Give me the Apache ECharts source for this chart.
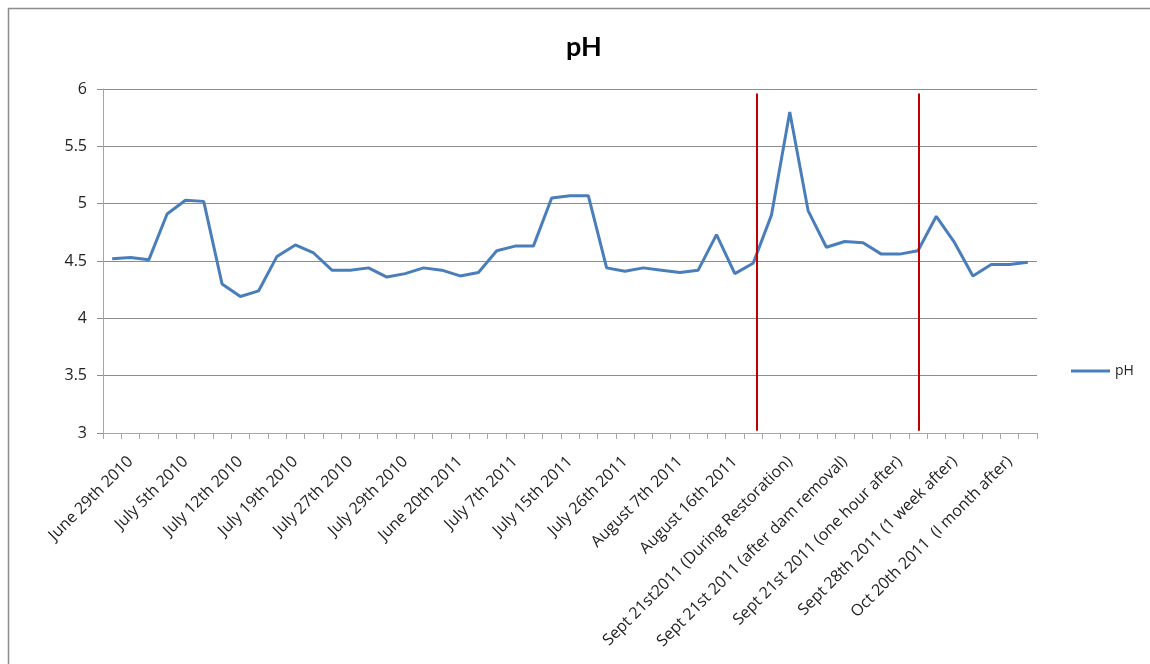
<!DOCTYPE html>
<html>
<head>
<meta charset="utf-8">
<script src="https://cdn.jsdelivr.net/npm/echarts@6/dist/echarts.min.js"></script>
<style>
  html, body { margin: 0; padding: 0; background: #fff; }
  #chart { width: 1150px; height: 664px; }
</style>
</head>
<body>
<div id="chart"></div>
<script>
  // sampling dates; only every third one carries a label in the original
  const labelNames = [
    'June 29th 2010', 'July 5th 2010', 'July 12th 2010', 'July 19th 2010',
    'July 27th 2010', 'July 29th 2010', 'June 20th 2011', 'July 7th 2011',
    'July 15th 2011', 'July 26th 2011', 'August 7th 2011', 'August 16th 2011',
    'Sept 21st2011 (During Restoration)', 'Sept 21st 2011 (after dam removal)',
    'Sept 21st 2011 (one hour after)', 'Sept 28th 2011 (1 week after)',
    'Oct 20th 2011  (I month after)'
  ];

  const phValues = [
    4.52, 4.53, 4.51, 4.91, 5.03, 5.02, 4.30, 4.19, 4.24, 4.54,
    4.64, 4.57, 4.42, 4.42, 4.44, 4.36, 4.39, 4.44, 4.42, 4.37,
    4.40, 4.59, 4.63, 4.63, 5.05, 5.07, 5.07, 4.44, 4.41, 4.44,
    4.42, 4.40, 4.42, 4.73, 4.39, 4.48, 4.90, 5.80, 4.94, 4.62,
    4.67, 4.66, 4.56, 4.56, 4.59, 4.89, 4.66, 4.37, 4.47, 4.47,
    4.49
  ];

  // categories: labelled sample sits at index 1, 4, 7, ...
  const categories = phValues.map((v, i) => (i % 3 === 1 ? labelNames[(i - 1) / 3] : ''));

  // restoration markers (in category-width units along the axis)
  const markerAt = [35.68, 44.56];
  const markerRange = [3.02, 5.96];

  const chart = echarts.init(document.getElementById('chart'));

  chart.setOption({
    animation: false,
    textStyle: { fontFamily: 'Open Sans' },
    graphic: [{
      type: 'rect',
      shape: { x: 8.5, y: 8.5, width: 1200, height: 700 },
      style: { fill: 'none', stroke: '#8c8c8c', lineWidth: 1.5 },
      silent: true
    }],
    title: {
      text: 'pH',
      left: 561,
      top: 29,
      textStyle: { fontSize: 27, fontWeight: 'bold', color: '#000', fontFamily: 'Lato' }
    },
    legend: {
      data: ['pH'],
      left: 1066,
      top: 359,
      icon: 'rect',
      itemWidth: 39,
      itemHeight: 3,
      itemGap: 4,
      textStyle: { fontSize: 14, color: '#222' }
    },
    grid: { left: 103, right: 113, top: 89, bottom: 231, containLabel: false },
    xAxis: [{
      type: 'category',
      data: categories,
      boundaryGap: true,
      axisLine: { lineStyle: { color: '#a6a6a6', width: 1 } },
      axisTick: { show: true, interval: 0, length: 6, lineStyle: { color: '#a6a6a6' } },
      axisLabel: {
        interval: 0,
        rotate: 45,
        margin: 26,
        fontSize: 16,
        color: '#222',
        formatter: v => v
      }
    }, {
      type: 'value',
      min: 0,
      max: phValues.length,
      show: false
    }],
    yAxis: {
      type: 'value',
      min: 3,
      max: 6,
      interval: 0.5,
      axisLine: { show: true, lineStyle: { color: '#a6a6a6' } },
      axisTick: { show: true, length: 6, lineStyle: { color: '#8c8c8c' } },
      axisLabel: { fontSize: 16, color: '#222', margin: 16 },
      splitLine: { lineStyle: { color: '#8c8c8c', width: 1 } }
    },
    series: [{
      name: 'pH',
      type: 'line',
      data: phValues,
      symbol: 'none',
      itemStyle: { color: '#4a7ebb' },
      lineStyle: { color: '#4a7ebb', width: 3 },
      z: 3
    }, {
      type: 'line',
      xAxisIndex: 1,
      data: [],
      markLine: {
        silent: true,
        symbol: 'none',
        label: { show: false },
        lineStyle: { color: '#c00000', width: 2, type: 'solid' },
        data: markerAt.map(x => [{ coord: [x, markerRange[0]] }, { coord: [x, markerRange[1]] }])
      },
      z: 4
    }]
  });
</script>
</body>
</html>
